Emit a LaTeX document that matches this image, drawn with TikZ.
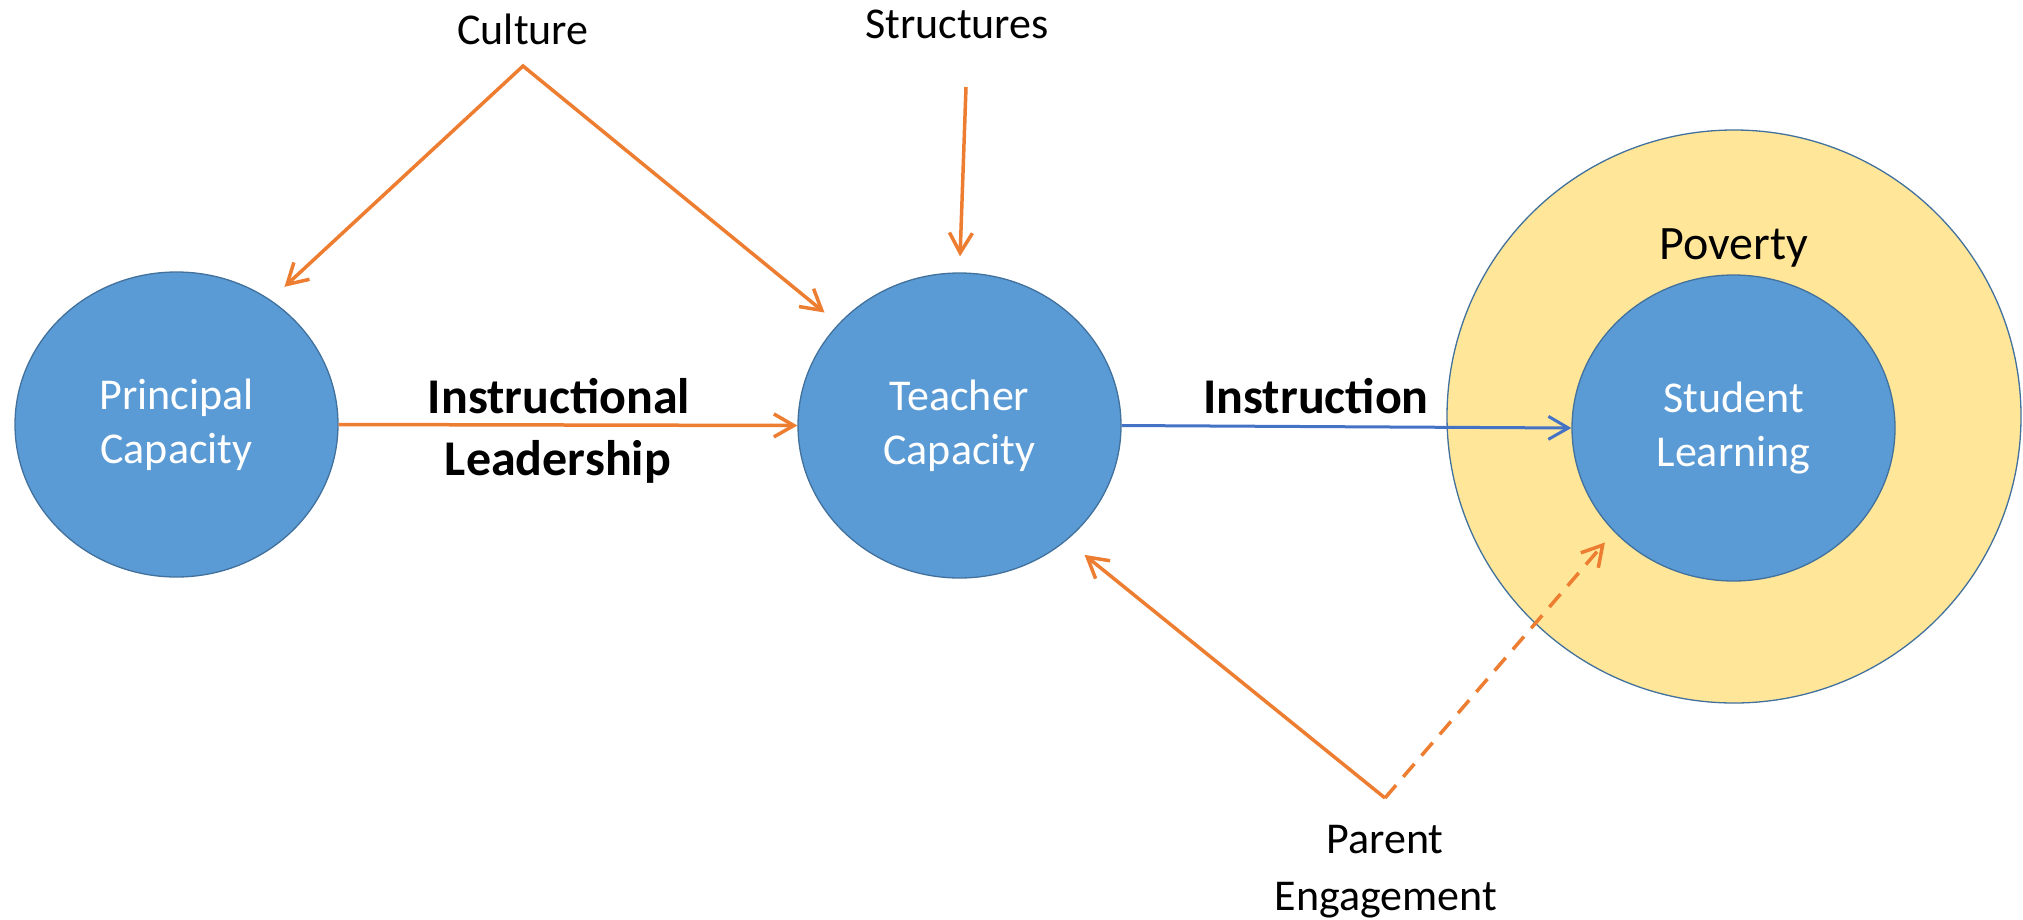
\documentclass[tikz,border=0pt]{standalone}
\usepackage{fontspec}
\setmainfont{Carlito}
\usetikzlibrary{arrows.meta,shapes.geometric}
\definecolor{nodeblue}{HTML}{5B9BD5}
\definecolor{edgeblue}{HTML}{41719C}
\definecolor{povyellow}{HTML}{FFE699}
\definecolor{arroworange}{HTML}{ED7D31}
\definecolor{arrowblue}{HTML}{4472C4}
\begin{document}
\begin{tikzpicture}[x=1pt,y=-1pt,
  capnode/.style={ellipse, fill=nodeblue, draw=edgeblue, line width=1.3pt,
    minimum width=323pt, minimum height=305pt, inner sep=0pt, text=white,
    align=center, font=\fontsize{44}{54}\selectfont},
  lbl/.style={anchor=base, inner sep=0pt, font=\fontsize{44}{54}\selectfont},
  boldlbl/.style={anchor=base, inner sep=0pt, font=\fontsize{50}{61}\selectfont\bfseries},
  tipstyle/.tip={Straight Barb[length=20pt,width=23pt]},
  oarrow/.style={draw=arroworange, line width=3.5pt, -tipstyle},
  barrow/.style={draw=arrowblue, line width=3pt, -tipstyle},
]
\useasboundingbox (0,0) rectangle (2023,919);
% shapes
\node[ellipse, fill=povyellow, draw=edgeblue, line width=1.3pt,
  minimum width=574pt, minimum height=573pt, inner sep=0pt] (Pov) at (1734,416.5) {};
\node[capnode] (P) at (176.5,424.5) {Principal\\Capacity};
\node[capnode] (T) at (959.5,425.5) {Teacher\\Capacity};
\node[capnode, minimum height=306pt] (S) at (1733.5,428) {Student\\Learning};
% labels
\node[lbl, font=\fontsize{48}{58}\selectfont] (povlbl) at (1734,259) {Poverty};
\node[lbl] (cult) at (523,44) {Culture};
\node[lbl] (struc) at (957,38) {Structures};
\node[lbl] (par1) at (1385,853) {Parent};
\node[lbl] (par2) at (1386,910) {Engagement};
\node[boldlbl] (il1) at (559,413) {Instructional};
\node[boldlbl] (il2) at (558,475) {Leadership};
\node[boldlbl] (ins) at (1316,413) {Instruction};
% free ends
\coordinate (capex) at (523,66);
\coordinate (stop) at (966,87);
\coordinate (pv) at (1385,798);
% connectors
\draw[oarrow, tipstyle-tipstyle, shorten <=19pt, shorten >=17.8pt] (P.53) -- (capex) -- (T.140.55);
\draw[oarrow, shorten >=16pt] (stop) -- (T.north);
\draw[oarrow] (P.east) -- (T.west);
\draw[barrow] (T.east) -- (S.west);
\draw[oarrow, shorten >=23pt] (pv) -- (T.-47);
\draw[oarrow, dash pattern=on 17pt off 11pt, shorten >=14pt] (pv) -- (S.-139.4);
\end{tikzpicture}
\end{document}
